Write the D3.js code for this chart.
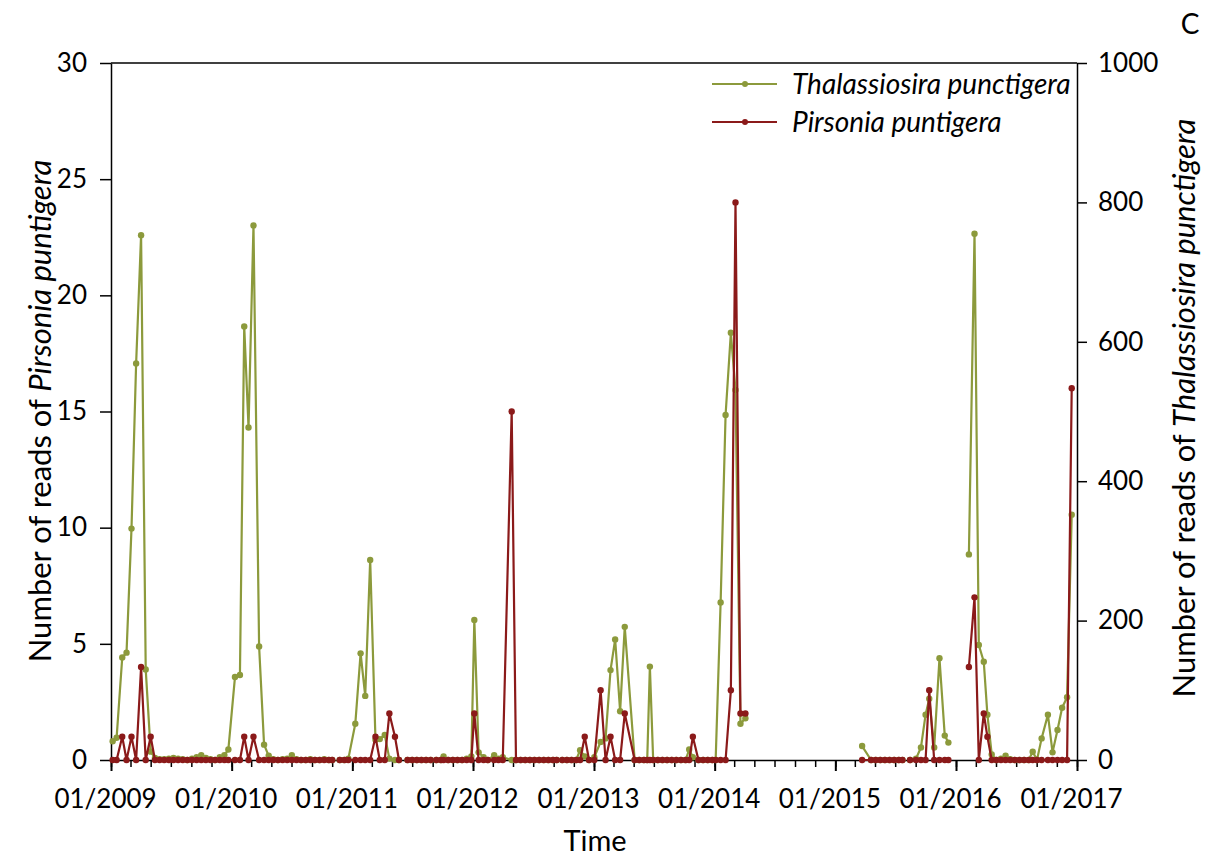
<!DOCTYPE html>
<html>
<head>
<meta charset="utf-8">
<script src="https://cdn.jsdelivr.net/npm/d3@7"></script>
<style>
  html, body { margin: 0; padding: 0; background: #fff; }
  svg { display: block; font-family: Lato, "Open Sans", sans-serif; }
</style>
</head>
<body>
<svg id="chart" width="1208" height="861"></svg>
<script>
// ---------------- data ----------------
const sampleDates = [
  // 2009
  "2009-01-06","2009-01-18","2009-02-04","2009-02-17","2009-03-04","2009-03-18","2009-04-02","2009-04-16",
  "2009-05-01","2009-05-14","2009-05-28","2009-06-11","2009-06-25","2009-07-09","2009-07-23","2009-08-06",
  "2009-08-20","2009-09-03","2009-09-17","2009-10-01","2009-10-15","2009-10-29","2009-11-12","2009-11-26",
  "2009-12-10","2009-12-22",
  // 2010
  "2010-01-11","2010-01-26","2010-02-08","2010-02-21","2010-03-08","2010-03-25","2010-04-09","2010-04-23",
  "2010-05-07","2010-05-21","2010-06-04","2010-06-18","2010-07-02","2010-07-16","2010-07-30","2010-08-13",
  "2010-08-27","2010-09-10","2010-09-24","2010-10-08","2010-10-22","2010-11-01","2010-11-12","2010-11-24",
  "2010-12-08","2010-12-20",
  // 2011
  "2011-01-10","2011-01-26","2011-02-09","2011-02-24","2011-03-12","2011-03-25","2011-04-09","2011-04-23",
  "2011-05-10","2011-05-22","2011-06-06","2011-06-17","2011-07-01","2011-07-15","2011-07-29","2011-08-12",
  "2011-08-26","2011-09-05","2011-09-12","2011-09-26","2011-10-04","2011-10-18","2011-11-01","2011-11-15",
  "2011-11-29","2011-12-13","2011-12-27",
  // 2012
  "2012-01-05","2012-01-18","2012-02-02","2012-02-15","2012-03-05","2012-03-18","2012-03-31","2012-04-27",
  "2012-05-10","2012-05-24","2012-06-07","2012-06-21","2012-07-05","2012-07-19","2012-08-02","2012-08-16",
  "2012-08-30","2012-09-10","2012-09-20","2012-09-27","2012-10-11","2012-10-25","2012-11-08","2012-11-20",
  "2012-12-04","2012-12-17",
  // 2013
  "2013-01-02","2013-01-21","2013-02-05","2013-02-20","2013-03-06","2013-03-21","2013-04-04","2013-05-04",
  "2013-05-18","2013-06-01","2013-06-11","2013-06-19","2013-06-29","2013-07-13","2013-07-27","2013-08-10",
  "2013-08-24","2013-09-07","2013-09-21","2013-10-05","2013-10-16","2013-10-27","2013-11-13","2013-11-27",
  "2013-12-11","2013-12-25",
  // 2014
  "2014-01-04","2014-01-19","2014-02-03","2014-02-19","2014-03-05","2014-03-20","2014-04-04","2014-06-01",
  // 2015
  "2015-03-23","2015-04-19","2015-05-03","2015-05-17","2015-05-31","2015-06-14","2015-06-28","2015-07-12",
  "2015-07-23","2015-08-03","2015-08-15","2015-09-02","2015-09-17","2015-10-01","2015-10-12","2015-10-27",
  "2015-11-12","2015-11-28","2015-12-09","2015-12-25",
  // 2016
  "2016-02-09","2016-02-26","2016-03-10","2016-03-25","2016-04-05","2016-04-18","2016-05-02","2016-05-16",
  "2016-05-30","2016-06-13","2016-06-27","2016-07-11","2016-07-25","2016-08-08","2016-08-20","2016-09-02",
  "2016-09-16","2016-10-05","2016-10-19","2016-11-03","2016-11-17","2016-12-02","2016-12-16"
];

// Pirsonia puntigera (left axis); null = no sample (line break)
const pirsonia = [
  0,0,1,0,1,0,4,0, 1,0,0,0,0,0,0,0, 0,0,0,0,0,0,0,0, 0,0,
  0,0,1,0,1,0,0,0, 0,0,0,0,0,0,0,0, 0,0,0,0,0,0,null,0, 0,0,
  0,0,0,0,1,0,0,2, 1,0,null,0,0,0,0,0, 0,null,0,0,0,0,0,0, 0,0,0,
  2,0,0,0,0,0,0,15, 0,0,0,0,0,0,0,0, 0,0,null,0,0,0,0,0, 1,0,
  0,3,0,1,0,0,2,0, 0,0,0,0,0,0,0,0, 0,0,0,0,0,1,0,0, 0,0,
  0,0,0,3,24,2,2,null,
  0,0,0,0,0,0,0,0, 0,null,0,0,0,0,3,0, 0,0,0,null,
  4,7,0,2,1,0,0,0, 0,0,0,0,0,0,0,0, 0,0,0,0,0,0,16
];

// Thalassiosira punctigera (right axis)
const thalassiosira = [
  27,32,147,154,332,569,753,130, 12,3,1,1,2,3,2,1, 0,2,4,7,3,1,0,4, 7,15,
  119,122,622,477,767,163,22,6, 1,0,1,2,7,1,0,0, 1,0,0,1,0,0,null,0, 0,2,
  52,153,92,287,29,30,36,2, 0,0,null,0,0,0,0,0, 0,null,0,0,5,0,0,0, 0,2,5,
  201,11,4,0,7,2,4,0, 0,0,0,0,0,0,0,0, 0,0,null,0,0,0,0,14, 5,0,
  4,26,31,129,173,70,191,0, 0,0,0,134,0,0,0,0, 0,0,0,0,15,4,0,0, 0,0,
  0,226,495,613,531,52,60,null,
  20,0,0,0,0,0,0,0, 0,null,0,2,18,65,88,18, 146,35,25,null,
  295,755,165,141,65,8,0,2, 6,1,0,0,0,0,12,0, 31,65,11,43,75,90,352
];

const leftTicks = [0, 5, 10, 15, 20, 25, 30];
const rightTicks = [0, 200, 400, 600, 800, 1000];
const xDomain = ["2009-01-01", "2017-01-01"];
const seriesNames = ["Thalassiosira punctigera", "Pirsonia puntigera"];

// ---------------- drawing ----------------
const green = "#8c9a3c";
const red = "#8b1a1a";
const parse = d3.timeParse("%Y-%m-%d");
const rows = sampleDates.map((d, i) => ({ date: parse(d), p: pirsonia[i], t: thalassiosira[i] }));

const svg = d3.select("#chart");
const L = 111, R = 1077, T = 63, B = 760;

const x = d3.scaleTime().domain(xDomain.map(parse)).range([L, R]);
const yL = d3.scaleLinear().domain([0, 30]).range([B, T]);
const yR = d3.scaleLinear().domain([0, 1000]).range([B, T]);

const tickFont = 26;
const titleFont = 31;
const legendFont = 28;

// frame top
svg.append("line").attr("x1", L).attr("x2", R).attr("y1", T).attr("y2", T)
  .attr("stroke", "#000").attr("stroke-width", 1.5);

// x axis minor ticks
const xMinor = svg.append("g").attr("transform", `translate(0,${B})`)
  .call(d3.axisBottom(x).ticks(d3.timeMonth.every(2)).tickSize(7).tickFormat(""));
xMinor.select(".domain").remove();
xMinor.selectAll("line").attr("stroke", "#000").attr("stroke-width", 1.5);

// x axis major
const xAxis = svg.append("g").attr("transform", `translate(0,${B})`)
  .call(d3.axisBottom(x).ticks(d3.timeYear.every(1)).tickSize(11).tickSizeOuter(0)
    .tickFormat(d3.timeFormat("%m/%Y")));
xAxis.select(".domain").attr("stroke", "#000").attr("stroke-width", 1.5);
xAxis.selectAll("line").attr("stroke", "#000").attr("stroke-width", 2);
xAxis.selectAll("text").attr("font-size", tickFont).attr("fill", "#000")
  .attr("font-family", "Lato, sans-serif").attr("y", 48).attr("dy", 0).attr("x", -6);

// left axis
const yAxisL = svg.append("g").attr("transform", `translate(${L},0)`)
  .call(d3.axisLeft(yL).tickValues(leftTicks).tickSize(11).tickSizeOuter(0).tickPadding(13));
yAxisL.select(".domain").attr("stroke", "#000").attr("stroke-width", 1.5);
yAxisL.selectAll("line").attr("stroke", "#000").attr("stroke-width", 1.5);
yAxisL.selectAll("text").attr("font-size", tickFont).attr("fill", "#000")
  .attr("font-family", "Lato, sans-serif");

// right axis
const yAxisR = svg.append("g").attr("transform", `translate(${R},0)`)
  .call(d3.axisRight(yR).tickValues(rightTicks).tickSize(10).tickSizeOuter(0).tickPadding(11)
    .tickFormat(d3.format("d")));
yAxisR.select(".domain").attr("stroke", "#000").attr("stroke-width", 1.5);
yAxisR.selectAll("line").attr("stroke", "#000").attr("stroke-width", 1.5);
yAxisR.selectAll("text").attr("font-size", tickFont).attr("fill", "#000")
  .attr("font-family", "Lato, sans-serif");

// series lines
const lineT = d3.line().defined(d => d.t !== null).x(d => x(d.date)).y(d => yR(d.t));
const lineP = d3.line().defined(d => d.p !== null).x(d => x(d.date)).y(d => yL(d.p));

svg.append("path").datum(rows).attr("d", lineT)
  .attr("fill", "none").attr("stroke", green).attr("stroke-width", 2.2).attr("stroke-linejoin", "round");
svg.append("g").selectAll("circle").data(rows.filter(d => d.t !== null)).join("circle")
  .attr("cx", d => x(d.date)).attr("cy", d => yR(d.t)).attr("r", 3.2).attr("fill", green);

svg.append("path").datum(rows).attr("d", lineP)
  .attr("fill", "none").attr("stroke", red).attr("stroke-width", 2.2).attr("stroke-linejoin", "round");
svg.append("g").selectAll("circle").data(rows.filter(d => d.p !== null)).join("circle")
  .attr("cx", d => x(d.date)).attr("cy", d => yL(d.p)).attr("r", 3.2).attr("fill", red);

// legend
const legendColors = [green, red];
const legend = svg.append("g");
seriesNames.forEach((name, i) => {
  const ly = 84 + i * 38;
  legend.append("line").attr("x1", 712).attr("x2", 777).attr("y1", ly).attr("y2", ly)
    .attr("stroke", legendColors[i]).attr("stroke-width", 1.8);
  legend.append("circle").attr("cx", 745).attr("cy", ly).attr("r", 3).attr("fill", legendColors[i]);
  legend.append("text").attr("x", 792).attr("y", ly).attr("dy", "0.35em").text(name)
    .attr("font-size", legendFont).attr("font-style", "italic").attr("fill", "#000");
});

// axis titles
svg.append("text").attr("x", (L + R) / 2 + 1).attr("y", 851).attr("text-anchor", "middle")
  .attr("font-size", 29).attr("fill", "#000").text("Time");

const lt = svg.append("text").attr("transform", "translate(51,411) rotate(-90)")
  .attr("text-anchor", "middle").attr("font-size", titleFont).attr("fill", "#000");
lt.append("tspan").text("Number of reads of ");
lt.append("tspan").attr("font-style", "italic").text("Pirsonia puntigera");

const rt = svg.append("text").attr("transform", "translate(1195,408) rotate(-90)")
  .attr("text-anchor", "middle").attr("font-size", titleFont).attr("fill", "#000");
rt.append("tspan").text("Number of reads of ");
rt.append("tspan").attr("font-style", "italic").text("Thalassiosira punctigera");

// panel letter
svg.append("text").attr("x", 1190).attr("y", 34).attr("text-anchor", "middle")
  .attr("font-size", 28).attr("fill", "#000").text("C");
</script>
</body>
</html>
